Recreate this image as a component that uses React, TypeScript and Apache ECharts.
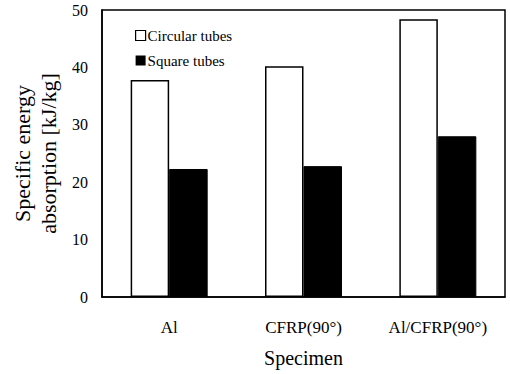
import React, { useEffect, useRef } from "react";
import * as echarts from "echarts";

const categories = ["Al", "CFRP(90°)", "Al/CFRP(90°)"];
const circularTubes = [37.8, 40.2, 48.4];
const squareTubes = [22.3, 22.8, 28.0];
const yTicks = { min: 0, max: 50, interval: 10 };

const FONT = "Times New Roman";

export default function App() {
  const ref = useRef<HTMLDivElement>(null);
  useEffect(() => {
    if (!ref.current) return;
    const chart = echarts.init(ref.current, null, { renderer: "svg" });
    chart.setOption({
      animation: false,
      backgroundColor: "#fff",
      textStyle: { fontFamily: FONT, color: "#000" },
      grid: {
        left: 102,
        right: 5,
        top: 10,
        bottom: 77,
        show: true,
        borderColor: "#000",
        borderWidth: 1.5,
        backgroundColor: "transparent",
      },
      legend: {
        orient: "vertical",
        left: 130,
        top: 23,
        itemWidth: 10,
        itemHeight: 10,
        itemGap: 10,
        icon: "rect",
        textStyle: { fontFamily: FONT, fontSize: 15, color: "#000", padding: [0, 0, 0, -3] },
        data: [
          { name: "Circular tubes", icon: "rect", itemStyle: { color: "#fff", borderColor: "#000", borderWidth: 1.2 } },
          { name: "Square tubes", icon: "rect", itemStyle: { color: "#000", borderColor: "#000", borderWidth: 0 } },
        ],
      },
      xAxis: {
        type: "category",
        data: categories,
        name: "Specimen",
        nameLocation: "middle",
        nameGap: 51,
        nameTextStyle: { fontFamily: FONT, fontSize: 20, color: "#000" },
        axisLine: { lineStyle: { color: "#000", width: 1.5 } },
        axisTick: { show: false },
        axisLabel: { fontFamily: FONT, fontSize: 17, color: "#000", margin: 22 },
      },
      yAxis: {
        type: "value",
        min: yTicks.min,
        max: yTicks.max,
        interval: yTicks.interval,
        name: "Specific energy\nabsorption [kJ/kg]",
        nameLocation: "middle",
        nameGap: 39,
        nameTextStyle: { fontFamily: FONT, fontSize: 22, color: "#000", lineHeight: 26 },
        axisLine: { show: true, lineStyle: { color: "#000", width: 1.5 } },
        axisTick: { show: false },
        splitLine: { show: false },
        axisLabel: { fontFamily: FONT, fontSize: 16, color: "#000", margin: 14 },
      },
      series: [
        {
          name: "Circular tubes",
          type: "bar",
          data: circularTubes,
          barWidth: 38.5,
          barGap: "0%",
          itemStyle: { color: "#fff", borderColor: "#000", borderWidth: 1.5 },
        },
        {
          name: "Square tubes",
          type: "bar",
          data: squareTubes,
          barWidth: 38.5,
          barGap: "0%",
          itemStyle: { color: "#000", borderColor: "#000", borderWidth: 1 },
        },
      ],
    });
    return () => chart.dispose();
  }, []);
  return <div ref={ref} style={{ width: 510, height: 374, position: "absolute", left: 0, top: 0 }} />;
}
